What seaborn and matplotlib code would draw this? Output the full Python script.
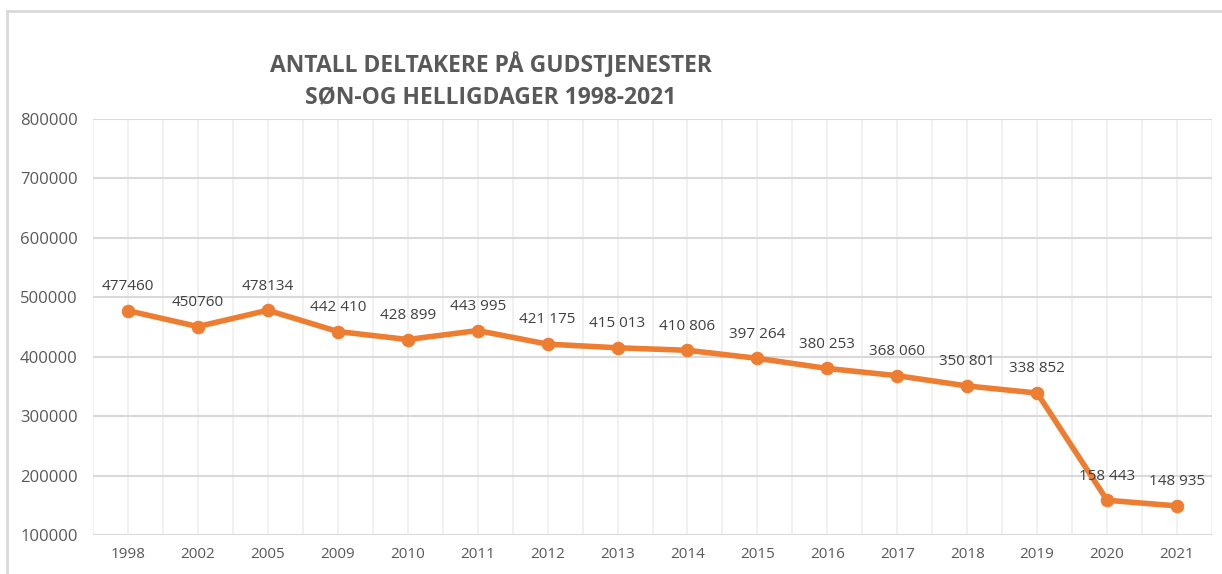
import matplotlib
matplotlib.use("Agg")
import matplotlib.pyplot as plt
import matplotlib.patches as patches
import seaborn as sns
import pandas as pd

# data
years = ["1998", "2002", "2005", "2009", "2010", "2011", "2012", "2013",
         "2014", "2015", "2016", "2017", "2018", "2019", "2020", "2021"]
deltakere = [477460, 450760, 478134, 442410, 428899, 443995, 421175, 415013,
             410806, 397264, 380253, 368060, 350801, 338852, 158443, 148935]
etiketter = ["477460", "450760", "478134", "442 410", "428 899", "443 995",
             "421 175", "415 013", "410 806", "397 264", "380 253", "368 060",
             "350 801", "338 852", "158 443", "148 935"]
y_ticks = [100000, 200000, 300000, 400000, 500000, 600000, 700000, 800000]

df = pd.DataFrame({"aar": years, "antall": deltakere})

sns.set_style("white")
plt.rcParams['font.family'] = ['Open Sans', 'DejaVu Sans']

fig = plt.figure(figsize=(12.22, 5.74), dpi=100)
ax = fig.add_axes([93 / 1222, 1 - 535 / 574, (1212 - 93) / 1222, (535 - 119) / 574])

# outer chart frame
fig.patches.append(patches.Rectangle((7 / 1222, -0.1), 1.1, 1 - 11 / 574 + 0.1,
                                     transform=fig.transFigure, fill=False,
                                     edgecolor="#D9D9D9", linewidth=2))

orange = "#ED7D31"
sns.lineplot(data=df, x="aar", y="antall", ax=ax, color=orange, linewidth=4,
             marker="o", markersize=9, markeredgecolor=orange, sort=False)

for i, (v, t) in enumerate(zip(deltakere, etiketter)):
    ax.annotate(t, (i, v), xytext=(0, 12), textcoords="offset points",
                ha="center", va="bottom", fontsize=11, color="#404040")

ax.set_xlim(-0.5, len(years) - 0.5)
ax.set_ylim(100000, 800000)
ax.set_yticks(y_ticks)
ax.set_yticklabels([str(v) for v in y_ticks])
ax.set_xticks(range(len(years)))
ax.set_xticks([i + 0.5 for i in range(-1, len(years))], minor=True)
ax.set_xticklabels(years)

ax.grid(axis="y", color="#D9D9D9", linewidth=1.5)
ax.grid(axis="x", which="both", color="#F0F0F0", linewidth=1.3)
ax.set_axisbelow(True)
ax.tick_params(axis="both", which="both", length=0, colors="#595959")
ax.tick_params(axis="x", pad=9, labelsize=11)
ax.tick_params(axis="y", pad=11, labelsize=12)
for s in ax.spines.values():
    s.set_visible(False)
ax.set_xlabel("")
ax.set_ylabel("")

fig.text(491 / 1222, 1 - 65 / 574, "ANTALL DELTAKERE PÅ GUDSTJENESTER",
         ha="center", va="center", fontsize=16.5, fontweight="bold", color="#595959")
fig.text(491 / 1222, 1 - 98 / 574, "SØN-OG HELLIGDAGER 1998-2021",
         ha="center", va="center", fontsize=16.5, fontweight="bold", color="#595959")

fig.savefig("out.png", dpi=100)
